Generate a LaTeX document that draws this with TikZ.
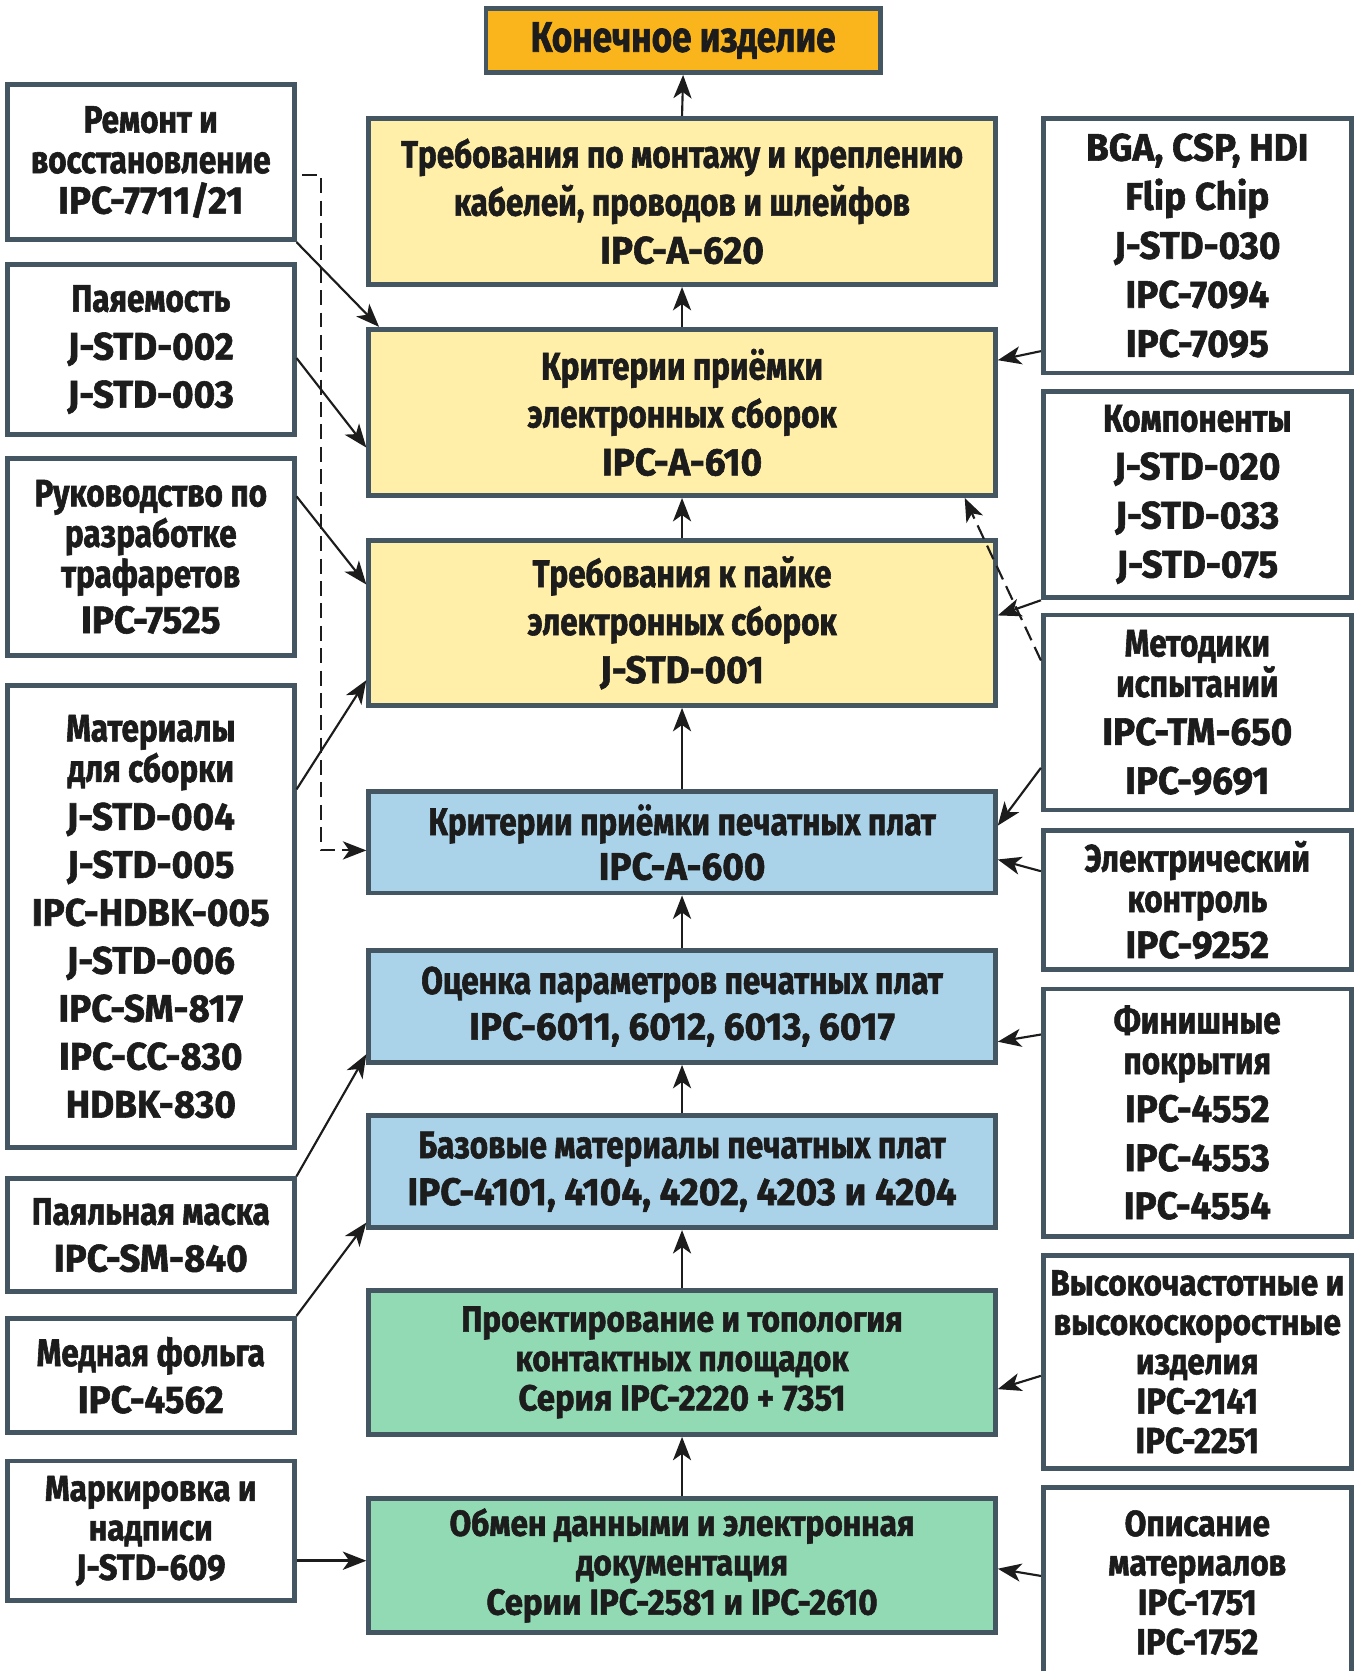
\documentclass[tikz,border=0pt]{standalone}
\usepackage{fontspec}
\setmainfont{Fira Sans}[FakeStretch=0.82, BoldFeatures={FakeBold=1.5}]
\newfontfamily\codefont{Fira Sans}[FakeStretch=0.96, BoldFeatures={FakeBold=1.5}]
\newfontfamily\narrowfont{Fira Sans}[FakeStretch=0.87, BoldFeatures={FakeBold=1.5}]
\newfontfamily\narrowcodefont{Fira Sans}[FakeStretch=0.91, BoldFeatures={FakeBold=1.5}]
\usepackage{tikz}
\usetikzlibrary{arrows.meta}
\definecolor{edgegray}{HTML}{455663}
\definecolor{inkblack}{HTML}{1C1C1C}
\definecolor{finalorange}{HTML}{F9B51B}
\definecolor{paleyellow}{HTML}{FFEFA8}
\definecolor{paleblue}{HTML}{AAD3EA}
\definecolor{palegreen}{HTML}{92DAB4}
\tikzstyle{block} = [rectangle, draw=edgegray, line width=4.5pt, inner sep=0pt, align=center, text=inkblack, font=\fontsize{36}{38}\selectfont\bfseries\let\stdfont\codefont]
\tikzstyle{narrowblock} = [block, font=\fontsize{34}{37}\narrowfont\bfseries\let\stdfont\narrowcodefont]
\tikzstyle{final} = [block, fill=finalorange, minimum width=370pt, minimum height=60pt, font=\fontsize{40}{42}\selectfont\bfseries]
\tikzstyle{assembly} = [block, fill=paleyellow, minimum width=588pt, minimum height=156pt]
\tikzstyle{board} = [block, fill=paleblue, minimum width=588pt]
\tikzstyle{design} = [narrowblock, fill=palegreen, minimum width=588pt]
\tikzstyle{leftdoc} = [block, fill=white, minimum width=269pt]
\tikzstyle{rightdoc} = [block, fill=white, minimum width=289pt]
\tikzstyle{arrow} = [->, >={Stealth[length=22pt, width=17pt, inset=6pt]}, line width=2pt, draw=inkblack]
\tikzstyle{dasharrow} = [arrow, dash pattern=on 14pt off 7pt]

\begin{document}
\begin{tikzpicture}[x=1pt, y=-1pt]
\useasboundingbox (0,0) rectangle (1271,1568);
\fill [white] (0,0) rectangle (1271,1568);
\clip (0,0) rectangle (1271,1568);

% Nodes: centre column
\node (final) [final] at (641,38) {Конечное изделие};
\node (a620) [assembly] at (640,189) {Требования по монтажу и креплению\\[7pt]кабелей, проводов и шлейфов\\[7pt]\stdfont IPC-A-620};
\node (a610) [assembly] at (640,387) {Критерии приёмки\\[7pt]электронных сборок\\[7pt]\stdfont IPC-A-610};
\node (j001) [assembly, minimum height=155pt] at (640,584.5) {Требования к пайке\\[7pt]электронных сборок\\[7pt]\stdfont J-STD-001};
\node (a600) [board, minimum height=95pt] at (640,790.5) {Критерии приёмки печатных плат\\[4pt]\stdfont IPC-A-600};
\node (p6011) [board, minimum height=105pt] at (640,944.5) {Оценка параметров печатных плат\\[5pt]\stdfont IPC-6011, 6012, 6013, 6017};
\node (p4101) [board, minimum height=105pt] at (640,1099.5) {Базовые материалы печатных плат\\[6pt]\stdfont IPC-4101, 4104, 4202, 4203 и 4204};
\node (p2220) [design, minimum height=135pt] at (640,1278.5) {Проектирование и топология\\контактных площадок\\\stdfont Серия IPC-2220 + 7351};
\node (p2581) [design, minimum height=126pt] at (640,1469) {Обмен данными и электронная\\документация\\\stdfont Серии IPC-2581 и IPC-2610};

% Nodes: left column
\node (repair) [leftdoc, minimum height=146pt] at (141.5,152) {Ремонт и\\восстановление\\\stdfont IPC-7711/21};
\node (solder) [leftdoc, minimum height=160pt] at (141.5,328) {Паяемость\\[7pt]\stdfont J-STD-002\\[7pt]\stdfont J-STD-003};
\node (stencil) [leftdoc, minimum height=185pt] at (141.5,522.5) {Руководство по\\разработке\\трафаретов\\[5pt]\stdfont IPC-7525};
\node (mater) [leftdoc, minimum height=434pt] at (141.5,860) {Материалы\\для сборки\\[7pt]\stdfont J-STD-004\\[7pt]\stdfont J-STD-005\\[7pt]\stdfont IPC-HDBK-005\\[7pt]\stdfont J-STD-006\\[7pt]\stdfont IPC-SM-817\\[7pt]\stdfont IPC-CC-830\\[7pt]\stdfont HDBK-830};
\node (mask) [leftdoc, minimum height=106pt] at (141.5,1159) {Паяльная маска\\[6pt]\stdfont IPC-SM-840};
\node (copper) [leftdoc, minimum height=107pt] at (141.5,1290.5) {Медная фольга\\[6pt]\stdfont IPC-4562};
\node (mark) [leftdoc, narrowblock, minimum height=131pt] at (141.5,1436.5) {Маркировка и\\надписи\\\stdfont J-STD-609};

% Nodes: right column
\node (bga) [rightdoc, minimum height=239pt] at (1123.5,230.5) {\stdfont BGA, CSP, HDI\\[8pt]\stdfont Flip Chip\\[8pt]\stdfont J-STD-030\\[8pt]\stdfont IPC-7094\\[8pt]\stdfont IPC-7095};
\node (comp) [rightdoc, minimum height=194pt] at (1123.5,464) {Компоненты\\[7pt]\stdfont J-STD-020\\[8pt]\stdfont J-STD-033\\[8pt]\stdfont J-STD-075};
\node (test) [rightdoc, minimum height=183pt] at (1123.5,668.5) {Методики\\испытаний\\[7pt]\stdfont IPC-TM-650\\[8pt]\stdfont IPC-9691};
\node (elec) [rightdoc, minimum height=131pt] at (1123.5,844.5) {Электрический\\контроль\\[5pt]\stdfont IPC-9252};
\node (finish) [rightdoc, minimum height=232pt] at (1123.5,1044) {Финишные\\покрытия\\[7pt]\stdfont IPC-4552\\[8pt]\stdfont IPC-4553\\[7pt]\stdfont IPC-4554};
\node (hf) [rightdoc, narrowblock, minimum height=200pt] at (1123.5,1278) {Высокочастотные и\\высокоскоростные\\изделия\\\stdfont IPC-2141\\\stdfont IPC-2251};
\node (descr) [rightdoc, narrowblock, minimum height=178pt] at (1123.5,1485) {Описание\\материалов\\\stdfont IPC-1751\\\stdfont IPC-1752};

\coordinate (dashturn) at (301,798);

% Arrows: centre column
\draw [arrow] (a620.north) -- (final.south);
\draw [arrow] (a610.north) -- (a620.south);
\draw [arrow] (j001.north) -- (a610.south);
\draw [arrow] (a600.north) -- (j001.south);
\draw [arrow] (p6011.north) -- (a600.south);
\draw [arrow] (p4101.north) -- (p6011.south);
\draw [arrow] (p2220.north) -- (p4101.south);
\draw [arrow] (p2581.north) -- (p2220.south);

% Arrows: left column
\draw [arrow] (repair.south east) -- ([xshift=12pt]a610.north west);
\draw [arrow] ([yshift=-8pt]solder.east) -- ([yshift=-33pt]a610.west);
\draw [arrow] ([yshift=-38pt]stencil.north east) -- ([yshift=36pt]j001.west);
\draw [arrow] ([yshift=-100pt]mater.north east) -- ([yshift=26pt]j001.south west);
\draw [arrow] (mask.north east) -- ([yshift=10pt]p6011.south west);
\draw [arrow] (copper.north east) -- ([yshift=7pt]p4101.south west);
\draw [arrow, line width=3pt] ([yshift=-28pt]mark.east) -- ([yshift=-28pt]mark.east -| p2581.west);
\draw [dasharrow] ([xshift=5pt, yshift=-12pt]repair.east) -| (dashturn) -- (dashturn -| a600.west);

% Arrows: right column
\draw [arrow] ([yshift=-99pt]bga.west) -- ([yshift=49pt]a610.east);
\draw [arrow] (comp.south west) -- ([yshift=7pt]j001.east);
\draw [arrow] ([yshift=-52pt]test.west) -- ([yshift=-34pt]a600.north east);
\draw [dasharrow] ([yshift=-45pt]test.north west) -- ([xshift=-31pt]a610.south east);
\draw [arrow] ([yshift=27pt]elec.west) -- ([yshift=-16pt]a600.east);
\draw [arrow] ([yshift=-45pt]finish.north west) -- ([yshift=-33pt]p6011.east);
\draw [arrow] ([yshift=-13pt]hf.west) -- ([yshift=-25pt]p2220.east);
\draw [arrow] ([yshift=-85pt]descr.north west) -- ([yshift=-3pt]p2581.east);

\end{tikzpicture}
\end{document}
